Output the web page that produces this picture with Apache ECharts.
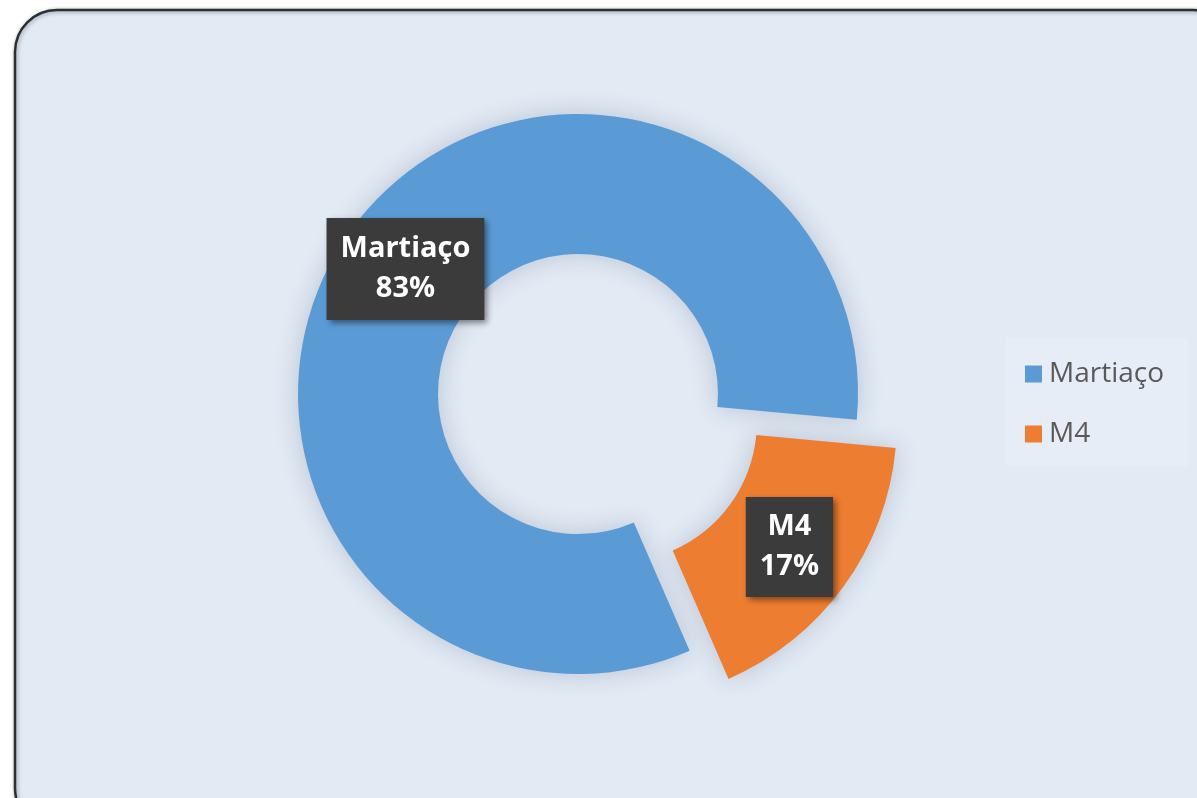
<!DOCTYPE html>
<html>
<head>
<meta charset="utf-8">
<script src="https://cdn.jsdelivr.net/npm/echarts@6/dist/echarts.min.js"></script>
<style>
html,body{margin:0;padding:0;background:#ffffff;}
#c{width:1197px;height:798px;}
</style>
</head>
<body>
<div id="c"></div>
<script>
const categories = ['Martiaço', 'M4'];
const values = [83, 17];
const colors = ['#5b9bd5', '#ed7d31'];

const chart = echarts.init(document.getElementById('c'), null, {renderer: 'canvas'});
const labelPads = [[11, 14, 11, 14], [10, 14, 10, 14]];
const option = {
  backgroundColor: 'transparent',
  animation: false,
  graphic: [{
    type: 'rect',
    z: -10,
    shape: {x: 15, y: 10, width: 1220, height: 820, r: 42},
    style: {fill: '#e2eaf4', stroke: '#2c3035', lineWidth: 2.5,
      shadowBlur: 4, shadowColor: 'rgba(0,0,0,0.35)', shadowOffsetX: 1, shadowOffsetY: 1}
  }],
  legend: {
    orient: 'vertical',
    left: 1006,
    top: 338,
    icon: 'rect',
    itemWidth: 17,
    itemHeight: 17,
    itemGap: 32,
    backgroundColor: 'rgba(255,255,255,0.18)',
    padding: [22, 24, 18, 19],
    textStyle: {fontSize: 28, color: '#595959', fontFamily: 'Open Sans', padding: [0, 0, 0, 2]},
    data: categories
  },
  series: [{
    type: 'pie',
    center: [578, 394],
    radius: [140, 280],
    startAngle: -66.5,
    clockwise: true,
    percentPrecision: 0,
    selectedMode: 'single',
    selectedOffset: 48,
    itemStyle: {shadowBlur: 25, shadowColor: 'rgba(40,60,90,0.22)'},
    emphasis: {disabled: true},
    label: {
      show: true,
      position: 'inside',
      formatter: '{b}\n{d}%',
      color: '#ffffff',
      fontSize: 29,
      fontWeight: 'bold',
      fontFamily: 'Open Sans',
      lineHeight: 40,
      backgroundColor: '#3b3b3b',
      shadowBlur: 6,
      shadowColor: 'rgba(0,0,0,0.45)',
      shadowOffsetX: 3,
      shadowOffsetY: 3
    },
    labelLine: {show: false},
    data: categories.map((n, i) => ({
      name: n, value: values[i], selected: i === 1,
      itemStyle: {color: colors[i]},
      label: {padding: labelPads[i]},
      select: {itemStyle: {color: colors[i]}}
    }))
  }]
};
chart.setOption(option);
</script>
</body>
</html>
